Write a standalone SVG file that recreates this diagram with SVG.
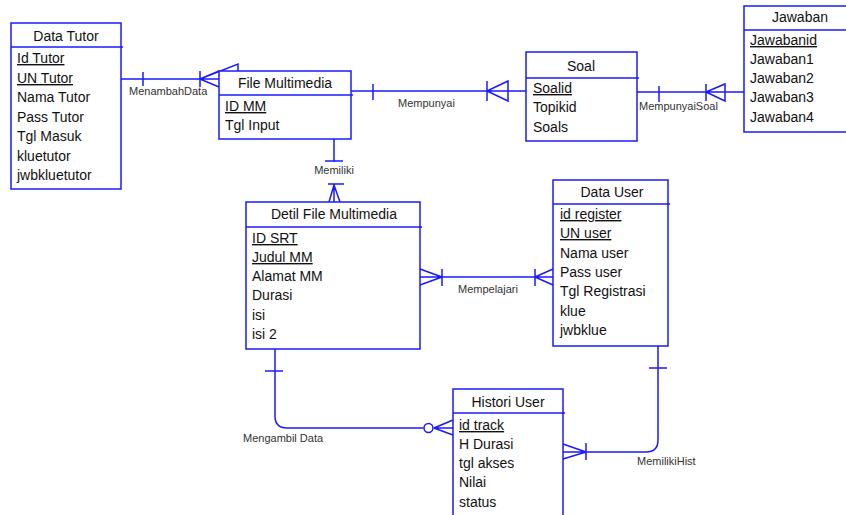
<svg xmlns="http://www.w3.org/2000/svg" width="846" height="515" viewBox="0 0 846 515">
<style>
.box{fill:#fff;stroke:#1a1aff;stroke-width:1.5}
.ln{fill:none;stroke:#1a1aff;stroke-width:1.5}
.t{font-family:"Liberation Sans",Arial,sans-serif;font-size:14px;fill:#111}
.ttl{font-family:"Liberation Sans",Arial,sans-serif;font-size:14px;fill:#111;text-anchor:middle}
.u{text-decoration:underline}
.lbl{font-family:"Liberation Sans",Arial,sans-serif;font-size:11px;fill:#333}
</style>
<rect width="846" height="515" fill="#fff"/>
<g id="connectors">
  <!-- MenambahData -->
  <path class="ln" d="M121,79 H219 M143,72 V86 M200,71 V87 M200,79 L219,71 M200,79 L219,87 M200,79 L238,64 V71"/>
  <text class="lbl" x="129" y="95">MenambahData</text>
  <!-- Mempunyai -->
  <path class="ln" d="M351,91 H526 M373,84 V100 M487,81 V101 M487,91 L508,81 V101 Z"/>
  <text class="lbl" x="398" y="107">Mempunyai</text>
  <!-- MempunyaiSoal -->
  <path class="ln" d="M637,92 H744 M659,86 V102 M706,84 V101 M706,92 L725,84 V101 Z"/>
  <text class="lbl" x="639" y="110">MempunyaiSoal</text>
  <!-- Memiliki -->
  <path class="ln" d="M334,139 V162 M325,161 H343 M328,184 H344 M334,184 V202 M334,185 L329,202 M334,185 L340,202"/>
  <text class="lbl" x="334" y="174" text-anchor="middle">Memiliki</text>
  <!-- Mempelajari -->
  <path class="ln" d="M420,277 H553 M442,269 V286 M442,277 L420,269 M442,277 L420,285 M535,269 V286 M535,277 L553,269 M535,277 L553,285"/>
  <text class="lbl" x="458" y="293">Mempelajari</text>
  <!-- Mengambil Data -->
  <path class="ln" d="M275,349 V416 Q275,428 287,428 H423.5 M265,371 H283 M434,428 L453,420 M434,428 H453 M434,428 L453,435"/>
  <circle class="ln" cx="428.5" cy="428" r="4.5"/>
  <text class="lbl" x="243" y="442">Mengambil Data</text>
  <!-- MemilikiHist -->
  <path class="ln" d="M658,346 V440 Q658,452 646,452 H563 M649,368 H667 M586,443 V460 M586,452 L563,444 M586,452 L563,459"/>
  <text class="lbl" x="637" y="465">MemilikiHist</text>
</g>
<g id="data-tutor">
  <rect class="box" x="11" y="23" width="110" height="166"/>
  <line class="ln" x1="11" y1="47" x2="123" y2="47"/>
  <text class="ttl" x="66" y="41">Data Tutor</text>
  <text class="t u" x="17" y="63">Id Tutor</text>
  <text class="t u" x="17" y="83">UN Tutor</text>
  <text class="t" x="17" y="102">Nama Tutor</text>
  <text class="t" x="17" y="122">Pass Tutor</text>
  <text class="t" x="17" y="141">Tgl Masuk</text>
  <text class="t" x="17" y="161">kluetutor</text>
  <text class="t" x="17" y="180">jwbkluetutor</text>
</g>
<g id="file-multimedia">
  <rect class="box" x="219" y="71" width="132" height="68"/>
  <line class="ln" x1="219" y1="95" x2="353" y2="95"/>
  <text class="ttl" x="285" y="88">File Multimedia</text>
  <text class="t u" x="225" y="111">ID MM</text>
  <text class="t" x="225" y="130">Tgl Input</text>
</g>
<g id="soal">
  <rect class="box" x="526" y="52" width="111" height="89"/>
  <line class="ln" x1="526" y1="78" x2="639" y2="78"/>
  <text class="ttl" x="581" y="71">Soal</text>
  <text class="t u" x="533" y="93">Soalid</text>
  <text class="t" x="533" y="112">Topikid</text>
  <text class="t" x="533" y="132">Soals</text>
</g>
<g id="jawaban">
  <rect class="box" x="744" y="6" width="112" height="126"/>
  <line class="ln" x1="744" y1="30" x2="856" y2="30"/>
  <text class="ttl" x="800" y="22">Jawaban</text>
  <text class="t u" x="750" y="45">Jawabanid</text>
  <text class="t" x="750" y="64">Jawaban1</text>
  <text class="t" x="750" y="83">Jawaban2</text>
  <text class="t" x="750" y="102">Jawaban3</text>
  <text class="t" x="750" y="122">Jawaban4</text>
</g>
<g id="detil-file-multimedia">
  <rect class="box" x="246" y="202" width="174" height="147"/>
  <line class="ln" x1="246" y1="227" x2="422" y2="227"/>
  <text class="ttl" x="334" y="219">Detil File Multimedia</text>
  <text class="t u" x="252" y="243">ID SRT</text>
  <text class="t u" x="252" y="262">Judul MM</text>
  <text class="t" x="252" y="281">Alamat MM</text>
  <text class="t" x="252" y="300">Durasi</text>
  <text class="t" x="252" y="320">isi</text>
  <text class="t" x="252" y="339">isi 2</text>
</g>
<g id="data-user">
  <rect class="box" x="553" y="180" width="115" height="166"/>
  <line class="ln" x1="553" y1="204" x2="670" y2="204"/>
  <text class="ttl" x="612" y="197">Data User</text>
  <text class="t u" x="560" y="219">id register</text>
  <text class="t u" x="560" y="238">UN user</text>
  <text class="t" x="560" y="258">Nama user</text>
  <text class="t" x="560" y="277">Pass user</text>
  <text class="t" x="560" y="296">Tgl Registrasi</text>
  <text class="t" x="560" y="316">klue</text>
  <text class="t" x="560" y="335">jwbklue</text>
</g>
<g id="histori-user">
  <rect class="box" x="453" y="389" width="110" height="135"/>
  <line class="ln" x1="453" y1="413" x2="565" y2="413"/>
  <text class="ttl" x="508" y="407">Histori User</text>
  <text class="t u" x="459" y="430">id track</text>
  <text class="t" x="459" y="449">H Durasi</text>
  <text class="t" x="459" y="468">tgl akses</text>
  <text class="t" x="459" y="487">Nilai</text>
  <text class="t" x="459" y="507">status</text>
</g>
</svg>
